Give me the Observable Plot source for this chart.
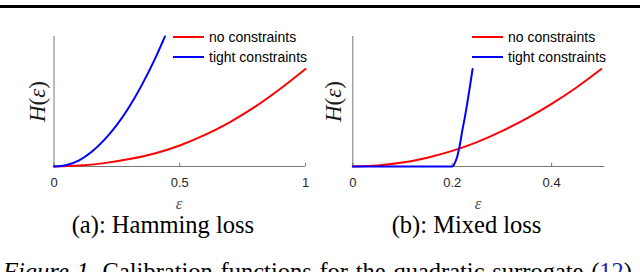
<!DOCTYPE html>
<html><head><meta charset="utf-8">
<script src="https://cdn.jsdelivr.net/npm/d3@7"></script>
<script src="https://cdn.jsdelivr.net/npm/@observablehq/plot@0.6"></script>
<style>
html,body{margin:0;padding:0;background:#fff;}
#fig{position:relative;width:640px;height:272px;overflow:hidden;background:#fff;}
#fig > *{position:absolute;top:0;}
</style></head><body><div id="fig"></div>
<script>
// ---- data ----
const seriesNames = ["no constraints", "tight constraints"];
const seriesColors = ["#ff0000", "#0000ff"];

// (a) Hamming loss
const hamNoneX  = [0, 0.1, 0.2, 0.3, 0.4, 0.5, 0.6, 0.7, 0.8, 0.9, 1.0];
const hamNoneY  = [0, 0.007, 0.026, 0.057, 0.1, 0.162, 0.243, 0.342, 0.46, 0.598, 0.75];
const hamTightX = [0, 0.05, 0.1, 0.15, 0.2, 0.25, 0.3, 0.35, 0.4, 0.441];
const hamTightY = [0, 0.012, 0.048, 0.114, 0.205, 0.32, 0.462, 0.63, 0.822, 1.0];
const hamTicks  = [0, 0.5, 1];
const hamTickLabels = ["0", "0.5", "1"];
const hamXMax = 1;

// (b) Mixed loss
const mixNoneX  = [0, 0.05, 0.1, 0.15, 0.2, 0.25, 0.3, 0.35, 0.4, 0.45, 0.5];
const mixNoneY  = [0, 0.008, 0.03, 0.068, 0.12, 0.188, 0.272, 0.37, 0.482, 0.608, 0.75];
const mixTightX = [0, 0.1, 0.2, 0.203, 0.206, 0.21, 0.213, 0.217, 0.22, 0.225, 0.23, 0.235, 0.241];
const mixTightY = [0, 0, 0, 0.01, 0.033, 0.075, 0.123, 0.2, 0.27, 0.37, 0.48, 0.6, 0.75];
const mixTicks  = [0, 0.2, 0.4];
const mixTickLabels = ["0", "0.2", "0.4"];
const mixXMax = 0.507;

const subCaptions = ["(a): Hamming loss", "(b): Mixed loss"];
const captionLead = "Figure 1.";
const captionRest = "Calibration functions for the quadratic surrogate (";
const captionRef = "12";
const captionEnd = ")";

// ---- panels ----
function panel(noneX, noneY, tightX, tightY, xMax, ticks, tickLabels, marginLeft, marginRight) {
  const rows = [
    ...noneX.map((x, i) => ({x, y: noneY[i], s: seriesNames[0]})),
    ...tightX.map((x, i) => ({x, y: tightY[i], s: seriesNames[1]}))
  ];
  const lab = new Map(ticks.map((t, i) => [t, tickLabels[i]]));
  return Plot.plot({
    width: 320, height: 200,
    marginLeft, marginRight, marginTop: 36, marginBottom: 34,
    style: {fontFamily: "'Liberation Sans', Arial, Helvetica, sans-serif", fontSize: "13px", background: "transparent"},
    x: {domain: [0, xMax]},
    y: {domain: [0, 1], axis: null},
    color: {domain: seriesNames, range: seriesColors},
    marks: [
      Plot.ruleY([0], {stroke: "#777"}),
      Plot.ruleX([0], {stroke: "#777"}),
      Plot.ruleX(ticks, {y1: 0, y2: 0.025, stroke: "#777"}),
      Plot.axisX(ticks, {tickSize: 0, tickPadding: 11, label: null, fontSize: 13, tickFormat: d => lab.get(d), fill: "#262626"}),
      Plot.line(rows, {x: "x", y: "y", z: "s", stroke: "s", strokeWidth: 2, curve: "monotone-x"})
    ]
  });
}

const fig = document.getElementById("fig");
const pA = panel(hamNoneX, hamNoneY, hamTightX, hamTightY, hamXMax, hamTicks, hamTickLabels, 53.5, 15);
pA.style.left = "0px";
const pB = panel(mixNoneX, mixNoneY, mixTightX, mixTightY, mixXMax, mixTicks, mixTickLabels, 32.3, 35.7);
pB.style.left = "320px";
fig.appendChild(pA);
fig.appendChild(pB);

// ---- overlay: rule, legends, labels, captions ----
const svg = d3.select(fig).append("svg")
  .attr("width", 640).attr("height", 272)
  .style("left", "0px").style("pointer-events", "none");

svg.append("rect").attr("x", 0).attr("y", 5).attr("width", 640).attr("height", 3).attr("fill", "#000");

const serif = "'Liberation Serif', 'Times New Roman', serif";
const sans = "'Liberation Sans', Arial, Helvetica, sans-serif";

[[0, 173, 45, 179, 71.7], [320, 472, 341, 478, 391.7]].forEach(([ox, lx, ylx, exx, capx], p) => {
  seriesNames.forEach((name, i) => {
    const ly = 37 + i * 20;
    svg.append("line").attr("x1", lx).attr("x2", lx + 31).attr("y1", ly).attr("y2", ly)
      .attr("stroke", seriesColors[i]).attr("stroke-width", 2);
    svg.append("text").attr("x", lx + 36).attr("y", ly + 5).attr("font-family", sans)
      .attr("font-size", 14).attr("fill", "#000").text(name);
  });
  const yl = svg.append("text").attr("transform", `translate(${ylx},101.5) rotate(-90)`)
    .attr("text-anchor", "middle").attr("font-family", serif).attr("font-size", 23).attr("fill", "#1a1a1a");
  yl.append("tspan").attr("font-style", "italic").text("H");
  yl.append("tspan").text("(");
  yl.append("tspan").attr("font-style", "italic").text("ε");
  yl.append("tspan").text(")");
  svg.append("text").attr("x", exx).attr("y", 209).attr("text-anchor", "middle")
    .attr("font-family", serif).attr("font-style", "italic").attr("font-size", 17).attr("fill", "#555").text("ε");
  svg.append("text").attr("x", capx).attr("y", 233.3).attr("font-family", serif)
    .attr("font-size", 24.5).attr("fill", "#000").text(subCaptions[p]);
});

const cap = svg.append("text").attr("x", 3).attr("y", 280).attr("font-family", serif)
  .attr("font-size", 24.5).attr("fill", "#000");
cap.append("tspan").attr("font-style", "italic").text(captionLead);
cap.append("tspan").text(" " + captionRest);
cap.append("tspan").attr("fill", "#1f1fa8").text(captionRef);
cap.append("tspan").text(captionEnd);
const len = cap.node().getComputedTextLength();
const spaces = (captionLead + " " + captionRest).split(" ").length - 1;
cap.attr("word-spacing", Math.max(0, (629 - len) / spaces));
</script>
</body></html>
